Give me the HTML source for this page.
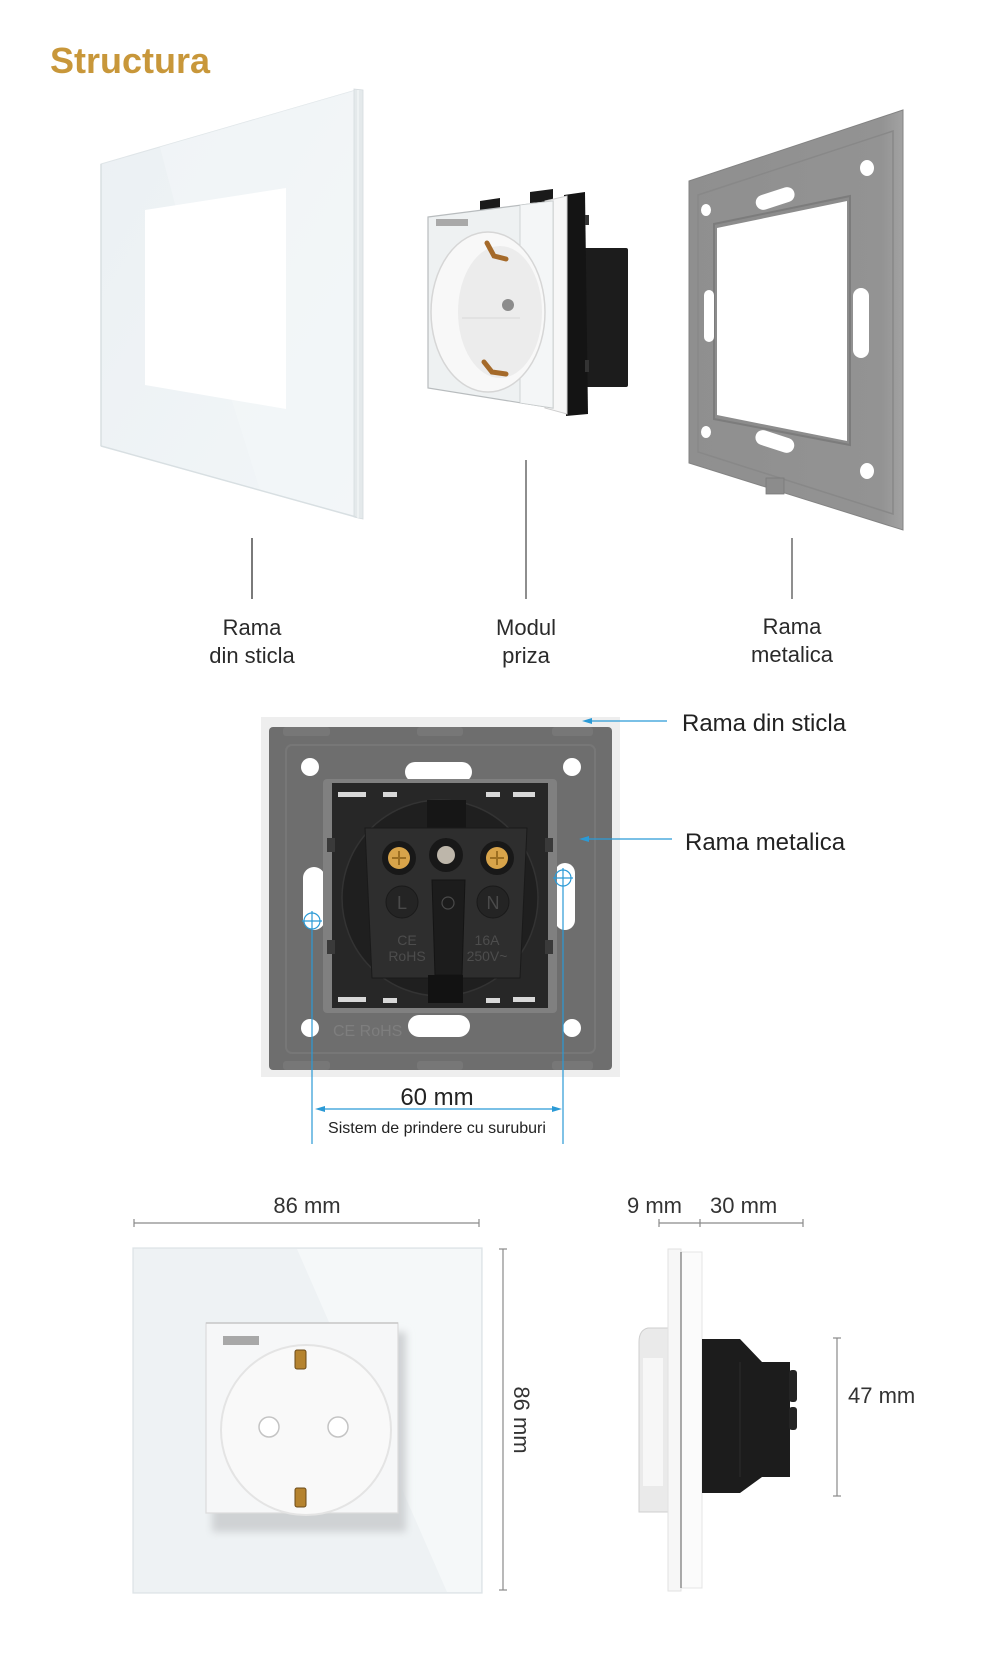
<!DOCTYPE html>
<html><head><meta charset="utf-8"><style>
html,body{margin:0;padding:0;background:#fff;}
svg{display:block;}
text{font-family:"Liberation Sans",sans-serif;}
</style></head><body>
<svg width="1000" height="1655" viewBox="0 0 1000 1655" xmlns="http://www.w3.org/2000/svg">
<defs>
 <linearGradient id="glassG" x1="0" y1="0" x2="1" y2="1">
  <stop offset="0" stop-color="#ebf0f3"/><stop offset="1" stop-color="#f2f6f8"/>
 </linearGradient>
 <linearGradient id="metalG" x1="0" y1="0" x2="1" y2="0">
  <stop offset="0" stop-color="#8f8f8f"/><stop offset="0.9" stop-color="#939393"/><stop offset="1" stop-color="#a2a2a2"/>
 </linearGradient>
 <filter id="blur4"><feGaussianBlur stdDeviation="4"/></filter>
</defs>

<!-- Title -->
<text x="50" y="73" font-size="36" font-weight="bold" fill="#c8973a">Structura</text>

<!-- ===== Glass frame (perspective) ===== -->
<polygon points="101,164 356,90 356,517 101,446" fill="url(#glassG)" stroke="#dfe5e8" stroke-width="1"/>
<polygon points="160,147 356,90 356,517 260,490 200,300" fill="#f3f6f8" opacity="0.6"/>
<polygon points="354,89 363,90 363,519 354,517" fill="#e4e9eb" stroke="#d5dbde" stroke-width="0.8"/>
<line x1="358" y1="90" x2="358" y2="518" stroke="#f8fafb" stroke-width="1"/>
<line x1="101" y1="446" x2="356" y2="517" stroke="#d8dfe2" stroke-width="1.5"/>
<line x1="101" y1="164" x2="101" y2="446" stroke="#d8dfe2" stroke-width="1.5"/>
<polygon points="145,210 286,188 286,409 145,385" fill="#ffffff"/>

<!-- ===== Socket module (perspective) ===== -->
<rect x="583" y="248" width="45" height="139" rx="2" fill="#1c1c1c"/>
<polygon points="564,195 585,192 588,414 566,416" fill="#141414"/>
<rect x="585" y="215" width="4" height="10" fill="#333"/>
<rect x="585" y="360" width="4" height="12" fill="#333"/>
<polygon points="480,201 500,198 500,208 480,210" fill="#1a1a1a"/>
<polygon points="530,192 553,189 553,201 530,203" fill="#1a1a1a"/>
<polygon points="545,201 567,196 567,414 545,408" fill="#f7f7f7" stroke="#cfcfcf" stroke-width="1"/>
<polygon points="428,217 553,201 553,408 428,388" fill="#eef1f2" stroke="#b8bcbe" stroke-width="1.2"/>
<polygon points="520,205 553,201 553,408 520,403" fill="#f4f6f7" stroke="#c8cccd" stroke-width="0.8"/>
<ellipse cx="488" cy="312" rx="57" ry="80" fill="#f8f8f8" stroke="#d6d6d6" stroke-width="1.5"/>
<ellipse cx="500" cy="312" rx="42" ry="66" fill="#ececec"/>
<line x1="462" y1="318" x2="520" y2="318" stroke="#d8d8d8" stroke-width="1"/>
<circle cx="508" cy="305" r="6" fill="#8c8c8c"/>
<path d="M487,243 L494,256 L506,259" fill="none" stroke="#a56a2a" stroke-width="5" stroke-linecap="round"/>
<path d="M484,362 L492,372 L506,374" fill="none" stroke="#a56a2a" stroke-width="5" stroke-linecap="round"/>
<rect x="436" y="219" width="32" height="7" fill="#a9a9a9"/>

<!-- ===== Metal frame (perspective) ===== -->
<polygon points="689,181 903,110 903,530 689,463" fill="url(#metalG)" stroke="#838383" stroke-width="1"/>
<polygon points="698,195 893,131 893,514 698,452" fill="none" stroke="#888" stroke-width="1.5"/>
<rect x="766" y="478" width="18" height="16" fill="#8c8c8c" stroke="#7a7a7a" stroke-width="0.8"/>
<polygon points="714,224 850,196 850,445 714,419" fill="#8c8c8c" stroke="#7c7c7c" stroke-width="2"/>
<polygon points="717,228 847,201 847,441 717,415" fill="#ffffff"/>
<ellipse cx="867" cy="168" rx="7" ry="8" fill="#fff"/>
<ellipse cx="706" cy="210" rx="5" ry="6" fill="#fff"/>
<ellipse cx="706" cy="432" rx="5" ry="6" fill="#fff"/>
<ellipse cx="867" cy="471" rx="7" ry="8" fill="#fff"/>
<rect x="755" y="191" width="40" height="15" rx="7.5" fill="#fff" transform="rotate(-18 775 198)"/>
<rect x="755" y="434" width="40" height="15" rx="7.5" fill="#fff" transform="rotate(18 775 441)"/>
<rect x="704" y="290" width="10" height="52" rx="5" fill="#fff"/>
<rect x="853" y="288" width="16" height="70" rx="8" fill="#fff"/>

<!-- connector lines -->
<line x1="252" y1="538" x2="252" y2="599" stroke="#222" stroke-width="1.2"/>
<line x1="526" y1="460" x2="526" y2="599" stroke="#444" stroke-width="1.2"/>
<line x1="792" y1="538" x2="792" y2="599" stroke="#444" stroke-width="1.2"/>

<g font-size="22" fill="#2a2a2a" text-anchor="middle">
 <text x="252" y="635">Rama</text>
 <text x="252" y="663">din sticla</text>
 <text x="526" y="635">Modul</text>
 <text x="526" y="663">priza</text>
 <text x="792" y="634">Rama</text>
 <text x="792" y="662">metalica</text>
</g>

<!-- ===== Middle back view ===== -->
<rect x="261" y="717" width="359" height="360" fill="#eeeeee"/>
<rect x="269" y="727" width="343" height="343" rx="4" fill="#6e6e6e"/>
<rect x="286" y="745" width="309" height="308" rx="6" fill="none" stroke="#777" stroke-width="2"/>
<g fill="#777">
 <rect x="283" y="727" width="47" height="9" rx="3"/>
 <rect x="417" y="727" width="46" height="9" rx="3"/>
 <rect x="552" y="727" width="41" height="9" rx="3"/>
 <rect x="283" y="1061" width="47" height="9" rx="3"/>
 <rect x="417" y="1061" width="46" height="9" rx="3"/>
 <rect x="552" y="1061" width="41" height="9" rx="3"/>
</g>
<g fill="#ffffff">
 <circle cx="310" cy="767" r="9"/>
 <circle cx="572" cy="767" r="9"/>
 <circle cx="310" cy="1028" r="9"/>
 <circle cx="572" cy="1028" r="9"/>
 <rect x="405" y="762" width="67" height="20" rx="10"/>
 <rect x="408" y="1015" width="62" height="22" rx="11"/>
 <rect x="303" y="867" width="22" height="63" rx="11"/>
 <rect x="555" y="863" width="20" height="67" rx="10"/>
</g>
<text x="333" y="1036" font-size="16" fill="#7e7e7e">CE RoHS</text>
<rect x="323" y="779" width="234" height="234" rx="4" fill="#808080"/>
<rect x="332" y="783" width="216" height="225" fill="#272727"/>
<g fill="#d8d8d8">
 <rect x="338" y="792" width="28" height="5"/>
 <rect x="383" y="792" width="14" height="5"/>
 <rect x="486" y="792" width="14" height="5"/>
 <rect x="513" y="792" width="22" height="5"/>
 <rect x="338" y="997" width="28" height="5"/>
 <rect x="383" y="998" width="14" height="5"/>
 <rect x="486" y="998" width="14" height="5"/>
 <rect x="513" y="997" width="22" height="5"/>
</g>
<g fill="#3a3a3a">
 <rect x="327" y="838" width="8" height="14"/>
 <rect x="327" y="940" width="8" height="14"/>
 <rect x="545" y="838" width="8" height="14"/>
 <rect x="545" y="940" width="8" height="14"/>
</g>
<circle cx="440" cy="898" r="98" fill="#1f1f1f" stroke="#333" stroke-width="1.5"/>
<rect x="427" y="800" width="39" height="28" fill="#161616"/>
<polygon points="365,828 527,828 520,978 372,978" fill="#2e2e2e" stroke="#1a1a1a" stroke-width="1"/>
<circle cx="399" cy="858" r="17" fill="#181818"/>
<circle cx="399" cy="858" r="11" fill="#d8a44a"/>
<path d="M392,858 L406,858 M399,851 L399,865" stroke="#9c6f22" stroke-width="2"/>
<circle cx="446" cy="855" r="17" fill="#181818"/>
<circle cx="446" cy="855" r="9" fill="#bdb6aa"/>
<circle cx="497" cy="858" r="17" fill="#181818"/>
<circle cx="497" cy="858" r="11" fill="#d8a44a"/>
<path d="M490,858 L504,858 M497,851 L497,865" stroke="#9c6f22" stroke-width="2"/>
<circle cx="402" cy="902" r="16" fill="#242424" stroke="#1a1a1a"/>
<circle cx="493" cy="902" r="16" fill="#242424" stroke="#1a1a1a"/>
<text x="402" y="909" font-size="18" fill="#4a4a4a" text-anchor="middle">L</text>
<text x="493" y="909" font-size="18" fill="#4a4a4a" text-anchor="middle">N</text>
<polygon points="432,880 465,880 462,975 435,975" fill="#1c1c1c" stroke="#141414"/>
<circle cx="448" cy="903" r="6" fill="none" stroke="#4a4a4a" stroke-width="1.2"/>
<rect x="428" y="975" width="35" height="28" fill="#121212"/>
<g font-size="14" fill="#4d4d4d" text-anchor="middle">
 <text x="407" y="945">CE</text>
 <text x="407" y="961">RoHS</text>
 <text x="487" y="945">16A</text>
 <text x="487" y="961">250V~</text>
</g>

<!-- blue annotations -->
<g stroke="#2b9ad6" stroke-width="1.2" fill="none">
 <line x1="590" y1="721" x2="667" y2="721"/>
 <line x1="587" y1="839" x2="672" y2="839"/>
 <circle cx="312" cy="921" r="8"/>
 <line x1="302" y1="921" x2="322" y2="921"/>
 <line x1="312" y1="911" x2="312" y2="1144"/>
 <circle cx="563" cy="878" r="8"/>
 <line x1="553" y1="878" x2="573" y2="878"/>
 <line x1="563" y1="868" x2="563" y2="1144"/>
 <line x1="323" y1="1109" x2="554" y2="1109"/>
</g>
<g fill="#2b9ad6">
 <polygon points="582,721 592,718 592,724"/>
 <polygon points="579,839 589,836 589,842"/>
 <polygon points="315,1109 325,1106 325,1112"/>
 <polygon points="562,1109 552,1106 552,1112"/>
</g>
<g font-size="24" fill="#222">
 <text x="682" y="731">Rama din sticla</text>
 <text x="685" y="850">Rama metalica</text>
 <text x="437" y="1105" text-anchor="middle">60 mm</text>
</g>
<text x="437" y="1133" font-size="16" fill="#222" text-anchor="middle">Sistem de prindere cu suruburi</text>

<!-- ===== Bottom left: front view ===== -->
<text x="307" y="1213" font-size="22" fill="#333" text-anchor="middle">86 mm</text>
<g stroke="#8a8a8a" stroke-width="1.2">
 <line x1="134" y1="1223" x2="479" y2="1223"/>
 <line x1="134" y1="1219" x2="134" y2="1227"/>
 <line x1="479" y1="1219" x2="479" y2="1227"/>
 <line x1="503" y1="1249" x2="503" y2="1590"/>
 <line x1="499" y1="1249" x2="507" y2="1249"/>
 <line x1="499" y1="1590" x2="507" y2="1590"/>
</g>
<text x="0" y="0" font-size="22" fill="#333" text-anchor="middle" transform="translate(514,1420) rotate(90)">86 mm</text>
<rect x="133" y="1248" width="349" height="345" fill="#eef2f4" stroke="#dce2e5" stroke-width="1.2"/>
<polygon points="297,1249 481,1249 481,1592 447,1592" fill="#f5f8f9"/>
<rect x="212" y="1332" width="194" height="200" fill="#cfd2d4" filter="url(#blur4)"/>
<rect x="206" y="1323" width="192" height="190" fill="#f6f7f8" stroke="#dcdcdc" stroke-width="1.2"/>
<line x1="206" y1="1323" x2="398" y2="1323" stroke="#c8c8c8" stroke-width="1.5"/>
<rect x="223" y="1336" width="36" height="9" fill="#a8a8a8"/>
<circle cx="306" cy="1430" r="85" fill="#f9f9f9" stroke="#e4e4e4" stroke-width="2"/>
<circle cx="269" cy="1427" r="10" fill="#ffffff" stroke="#c4c4c4" stroke-width="1.5"/>
<circle cx="338" cy="1427" r="10" fill="#ffffff" stroke="#c4c4c4" stroke-width="1.5"/>
<rect x="295" y="1350" width="11" height="19" rx="2" fill="#b5832f" stroke="#6b4a18" stroke-width="1"/>
<rect x="295" y="1488" width="11" height="19" rx="2" fill="#b5832f" stroke="#6b4a18" stroke-width="1"/>

<!-- ===== Bottom right: side view ===== -->
<text x="627" y="1213" font-size="22" fill="#333">9 mm</text>
<text x="710" y="1213" font-size="22" fill="#333">30 mm</text>
<g stroke="#8a8a8a" stroke-width="1.2">
 <line x1="659" y1="1223" x2="803" y2="1223"/>
 <line x1="659" y1="1219" x2="659" y2="1227"/>
 <line x1="700" y1="1219" x2="700" y2="1227"/>
 <line x1="803" y1="1219" x2="803" y2="1227"/>
 <line x1="837" y1="1338" x2="837" y2="1496"/>
 <line x1="833" y1="1338" x2="841" y2="1338"/>
 <line x1="833" y1="1496" x2="841" y2="1496"/>
</g>
<text x="848" y="1403" font-size="22" fill="#333">47 mm</text>
<path d="M668,1328 L648,1328 Q639,1330 639,1342 L639,1512 L668,1512 Z" fill="#eaeaea" stroke="#cfcfcf" stroke-width="1"/>
<rect x="643" y="1358" width="20" height="128" fill="#f7f7f7"/>
<rect x="668" y="1249" width="13" height="342" fill="#f7f7f7" stroke="#e2e2e2" stroke-width="1"/>
<rect x="681" y="1252" width="21" height="336" fill="#fbfbfb" stroke="#e4e4e4" stroke-width="1"/>
<line x1="681" y1="1252" x2="681" y2="1588" stroke="#5a5a5a" stroke-width="1"/>
<polygon points="702,1339 740,1339 762,1362 790,1362 790,1477 762,1477 740,1493 702,1493" fill="#1c1c1c"/>
<line x1="740" y1="1362" x2="740" y2="1477" stroke="#2c2c2c" stroke-width="1"/>
<rect x="789" y="1370" width="8" height="32" rx="3" fill="#242424"/>
<rect x="789" y="1407" width="8" height="23" rx="3" fill="#242424"/>
</svg>
</body></html>
